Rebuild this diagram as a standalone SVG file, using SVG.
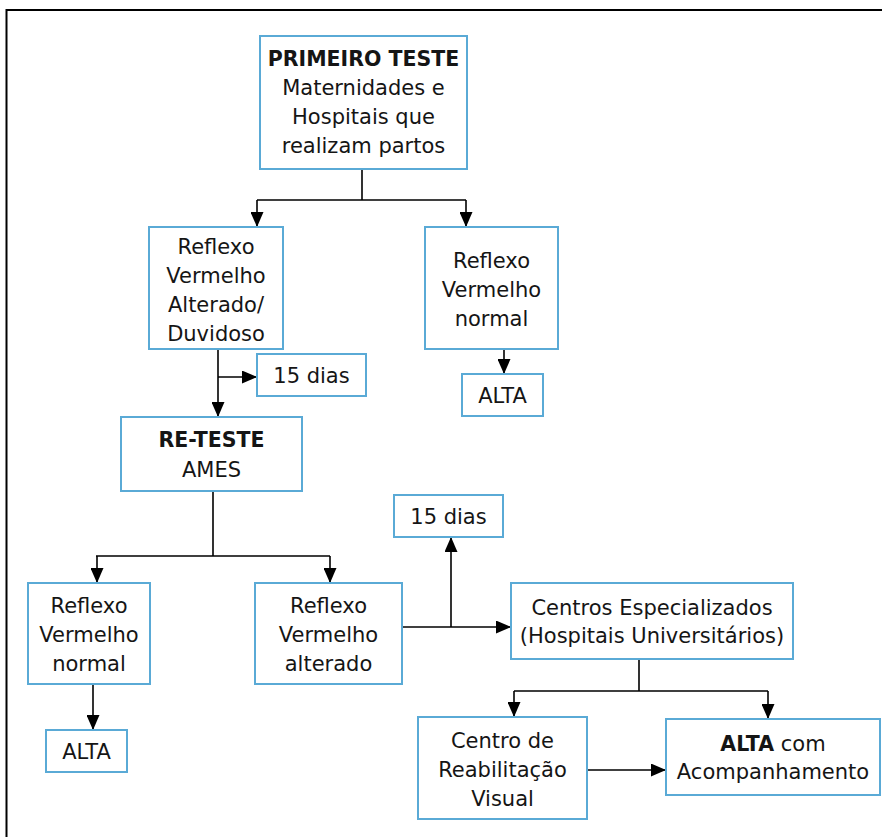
<svg xmlns="http://www.w3.org/2000/svg" width="882" height="837" viewBox="0 0 882 837">
  <style>
    .box { fill: #ffffff; stroke: #5aaad6; stroke-width: 2; }
    .t { font-family: "DejaVu Sans", "Liberation Sans", sans-serif; font-size: 21px; fill: #151515; text-anchor: middle; }
    .b { font-weight: bold; font-size: 20.5px; }
    .c { fill: none; stroke: #000000; stroke-width: 1.6; }
    .frame { fill: none; stroke: #000000; stroke-width: 2; }
  </style>
  <defs>
    <marker id="ah" markerUnits="userSpaceOnUse" markerWidth="15" markerHeight="13" viewBox="0 0 15 13" refX="15" refY="6.5" orient="auto">
      <path d="M0,0 L15,6.5 L0,13 Z" fill="#000000"/>
    </marker>
  </defs>
  <rect width="882" height="837" fill="#ffffff"/>
  <path class="frame" d="M6.5,837 V10 H882"/>

  <g id="connectors">
    <path class="c" d="M362,169 V200 M257,200 H466"/>
    <path class="c" d="M257,200 V227" marker-end="url(#ah)"/>
    <path class="c" d="M466,200 V227" marker-end="url(#ah)"/>
    <path class="c" d="M218,349 V417" marker-end="url(#ah)"/>
    <path class="c" d="M218,377 H257" marker-end="url(#ah)"/>
    <path class="c" d="M504,349 V374" marker-end="url(#ah)"/>
    <path class="c" d="M213,491 V556 M96,556 H330"/>
    <path class="c" d="M97,556 V583" marker-end="url(#ah)"/>
    <path class="c" d="M330,556 V583" marker-end="url(#ah)"/>
    <path class="c" d="M93,684 V730" marker-end="url(#ah)"/>
    <path class="c" d="M402,627 H511" marker-end="url(#ah)"/>
    <path class="c" d="M451,627 V537" marker-end="url(#ah)"/>
    <path class="c" d="M639,659 V691 M514,691 H768"/>
    <path class="c" d="M514,691 V717" marker-end="url(#ah)"/>
    <path class="c" d="M768,691 V719" marker-end="url(#ah)"/>
    <path class="c" d="M587,770 H666" marker-end="url(#ah)"/>
  </g>

  <g id="primeiro-teste">
    <rect class="box" x="260" y="36" width="207" height="133"/>
    <text class="t b" x="363.5" y="66">PRIMEIRO TESTE</text>
    <text class="t" x="363.5" y="95">Maternidades e</text>
    <text class="t" x="363.5" y="124">Hospitais que</text>
    <text class="t" x="363.5" y="153">realizam partos</text>
  </g>

  <g id="reflexo-alterado-duvidoso">
    <rect class="box" x="149" y="227" width="134" height="122"/>
    <text class="t" x="216" y="254">Reflexo</text>
    <text class="t" x="216" y="283">Vermelho</text>
    <text class="t" x="216" y="312">Alterado/</text>
    <text class="t" x="216" y="341">Duvidoso</text>
  </g>

  <g id="quinze-dias-1">
    <rect class="box" x="257" y="354" width="109" height="42"/>
    <text class="t" x="311.5" y="383">15 dias</text>
  </g>

  <g id="reflexo-normal-1">
    <rect class="box" x="425" y="227" width="133" height="122"/>
    <text class="t" x="491.5" y="268">Reflexo</text>
    <text class="t" x="491.5" y="297">Vermelho</text>
    <text class="t" x="491.5" y="326">normal</text>
  </g>

  <g id="alta-1">
    <rect class="box" x="462" y="374" width="81" height="42"/>
    <text class="t" x="502.5" y="403">ALTA</text>
  </g>

  <g id="re-teste">
    <rect class="box" x="121" y="417" width="181" height="74"/>
    <text class="t b" x="211.5" y="447">RE-TESTE</text>
    <text class="t" x="211.5" y="477">AMES</text>
  </g>

  <g id="reflexo-normal-2">
    <rect class="box" x="28" y="583" width="122" height="101"/>
    <text class="t" x="89" y="613">Reflexo</text>
    <text class="t" x="89" y="642">Vermelho</text>
    <text class="t" x="89" y="671">normal</text>
  </g>

  <g id="reflexo-alterado">
    <rect class="box" x="255" y="583" width="147" height="101"/>
    <text class="t" x="328.5" y="613">Reflexo</text>
    <text class="t" x="328.5" y="642">Vermelho</text>
    <text class="t" x="328.5" y="671">alterado</text>
  </g>

  <g id="alta-2">
    <rect class="box" x="46" y="730" width="81" height="42"/>
    <text class="t" x="86.5" y="759">ALTA</text>
  </g>

  <g id="quinze-dias-2">
    <rect class="box" x="394" y="495" width="109" height="42"/>
    <text class="t" x="448.5" y="524">15 dias</text>
  </g>

  <g id="centros-especializados">
    <rect class="box" x="511" y="583" width="282" height="76"/>
    <text class="t" x="652" y="615">Centros Especializados</text>
    <text class="t" x="652" y="643">(Hospitais Universitários)</text>
  </g>

  <g id="centro-reabilitacao">
    <rect class="box" x="418" y="717" width="169" height="102"/>
    <text class="t" x="502.5" y="748">Centro de</text>
    <text class="t" x="502.5" y="777">Reabilitação</text>
    <text class="t" x="502.5" y="806">Visual</text>
  </g>

  <g id="alta-acompanhamento">
    <rect class="box" x="666" y="719" width="214" height="76"/>
    <text class="t" x="773" y="751"><tspan class="b">ALTA</tspan> com</text>
    <text class="t" x="773" y="779">Acompanhamento</text>
  </g>
</svg>
